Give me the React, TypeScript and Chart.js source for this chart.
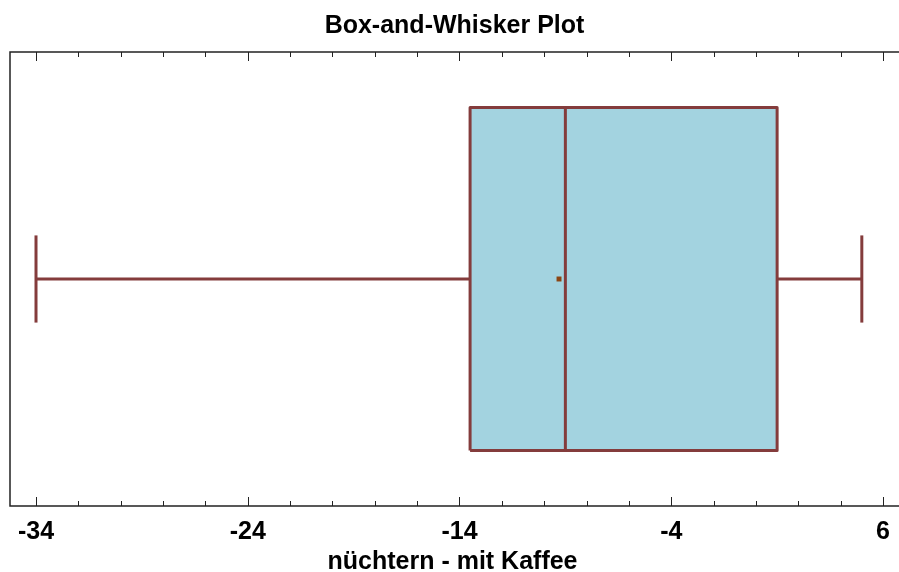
import React, { useEffect, useRef } from "react";
import { Chart, registerables } from "chart.js";

Chart.register(...registerables);

// ---- data ----
const categories = ["nüchtern - mit Kaffee"];
const minValues = [-34];
const q1Values = [-13.5];
const medianValues = [-9];
const q3Values = [1];
const maxValues = [5];
const meanValues = [-9.3];

const majorTicks = [-34, -24, -14, -4, 6];
const tickLabels = ["-34", "-24", "-14", "-4", "6"];
const minorStep = 2;

const chartTitle = "Box-and-Whisker Plot";

// ---- style ----
const LINE = "#843c3c";
const FILL = "#a3d3e0";
const MEAN = "#8b4513";
const FONT = "'Liberation Sans', Arial, sans-serif";

const allTicks: number[] = [];
for (let v = majorTicks[0]; v <= majorTicks[majorTicks.length - 1] + 1e-9; v += minorStep) allTicks.push(v);

const framePlugin = {
  id: "frameTicks",
  afterDraw(chart: any) {
    const { ctx, chartArea: a, scales } = chart;
    const x = scales.x;
    ctx.save();
    ctx.strokeStyle = "#222";
    ctx.lineWidth = 1;
    for (const v of allTicks) {
      const px = Math.round(x.getPixelForValue(v)) + 0.5;
      const len = majorTicks.includes(v) ? 9 : 5;
      ctx.beginPath();
      ctx.moveTo(px, a.bottom);
      ctx.lineTo(px, a.bottom - len);
      ctx.moveTo(px, a.top);
      ctx.lineTo(px, a.top + len);
      ctx.stroke();
    }
    ctx.lineWidth = 1.5;
    ctx.beginPath();
    ctx.moveTo(chart.width, a.top);
    ctx.lineTo(a.left, a.top);
    ctx.lineTo(a.left, a.bottom);
    ctx.lineTo(chart.width, a.bottom);
    ctx.stroke();
    ctx.restore();
  },
};

export default function App() {
  const ref = useRef<HTMLCanvasElement>(null);

  useEffect(() => {
    const i = 0;
    const yc = 0.5;
    const boxHalf = 0.378;
    const capHalf = 0.096;
    const lineDs = (pts: { x: number; y: number }[]) => ({
      data: pts,
      borderColor: LINE,
      borderWidth: 3,
      pointRadius: 0,
      fill: false,
      tension: 0,
      borderCapStyle: "butt",
      borderJoinStyle: "round",
    });
    const datasets: any[] = [
      {
        data: [{ x: meanValues[i], y: yc }],
        showLine: false,
        pointStyle: "rect",
        pointRadius: 3.5,
        pointBorderWidth: 0,
        pointBackgroundColor: MEAN,
        borderColor: MEAN,
      },
      lineDs([
        { x: medianValues[i], y: yc - boxHalf },
        { x: medianValues[i], y: yc + boxHalf },
      ]),
      lineDs([
        { x: q1Values[i], y: yc - boxHalf },
        { x: q1Values[i], y: yc + boxHalf },
        { x: q3Values[i], y: yc + boxHalf },
        { x: q3Values[i], y: yc - boxHalf },
        { x: q1Values[i], y: yc - boxHalf },
      ]),
      lineDs([
        { x: minValues[i], y: yc },
        { x: q1Values[i], y: yc },
      ]),
      lineDs([
        { x: q3Values[i], y: yc },
        { x: maxValues[i], y: yc },
      ]),
      lineDs([
        { x: minValues[i], y: yc - capHalf },
        { x: minValues[i], y: yc + capHalf },
      ]),
      lineDs([
        { x: maxValues[i], y: yc - capHalf },
        { x: maxValues[i], y: yc + capHalf },
      ]),
      {
        data: [
          { x: q1Values[i], y: yc + boxHalf },
          { x: q3Values[i], y: yc + boxHalf },
        ],
        borderWidth: 0,
        borderColor: "rgba(0,0,0,0)",
        backgroundColor: FILL,
        pointRadius: 0,
        fill: { target: { value: yc - boxHalf } },
      },
    ];

    const chart = new Chart(ref.current!, {
      type: "line",
      data: { datasets },
      options: {
        animation: false,
        responsive: false,
        maintainAspectRatio: false,
        layout: { padding: { left: 10, right: 0, top: 0, bottom: 0 } },
        plugins: {
          legend: { display: false },
          tooltip: { enabled: false },
          title: {
            display: true,
            text: chartTitle,
            color: "#000",
            font: { family: FONT, size: 25, weight: "bold", lineHeight: 1.2 },
            padding: { top: 11, bottom: 11 },
          },
        },
        scales: {
          x: {
            type: "linear",
            position: "bottom",
            min: -35.228,
            max: 6.567,
            afterBuildTicks: (axis: any) => {
              axis.ticks = allTicks.map((v) => ({ value: v }));
            },
            afterFit: (axis: any) => {
              axis.paddingLeft = 0;
              axis.paddingRight = 0;
            },
            ticks: {
              autoSkip: false,
              maxRotation: 0,
              padding: 13.5,
              color: "#000",
              font: { family: FONT, size: 25, weight: "bold", lineHeight: 1 },
              callback: (v: any) => {
                const k = majorTicks.indexOf(Number(v));
                return k >= 0 ? tickLabels[k] : "";
              },
            },
            grid: { display: false, drawTicks: false },
            border: { display: false },
            title: {
              display: true,
              text: categories[0],
              color: "#000",
              font: { family: FONT, size: 25, weight: "bold", lineHeight: 1 },
              padding: { top: -8, bottom: -3 },
            },
          },
          y: {
            type: "linear",
            display: false,
            min: 0,
            max: 1,
          },
        },
      },
      plugins: [framePlugin],
    });
    return () => chart.destroy();
  }, []);

  return (
    <div style={{ position: "absolute", left: 0, top: 0, width: 899, height: 572 }}>
      <canvas ref={ref} width={899} height={572} style={{ width: 899, height: 572 }} />
    </div>
  );
}
